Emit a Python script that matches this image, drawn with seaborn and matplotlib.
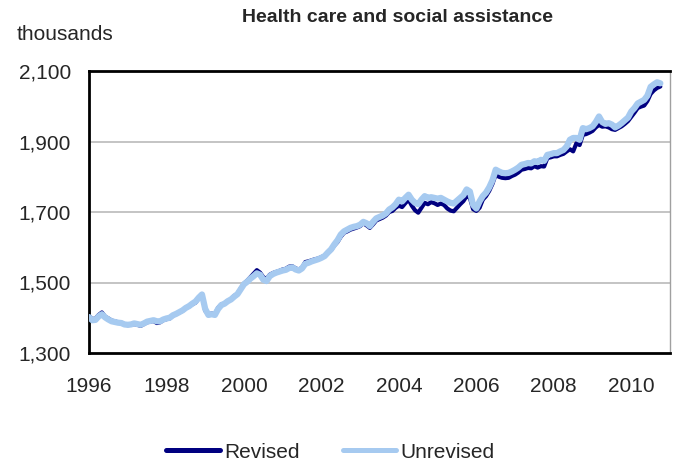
import numpy as np
import pandas as pd
import matplotlib
matplotlib.use("Agg")
import matplotlib.pyplot as plt
from matplotlib.lines import Line2D
import seaborn as sns

# Monthly data, January 1996 to October 2010 (thousands)
start_year = 1996
revised = [
    1405, 1396, 1398, 1408, 1415, 1403, 1398, 1392, 1390, 1387, 1386, 1381,
    1379, 1380, 1382, 1380, 1377, 1382, 1387, 1389, 1391, 1385, 1387, 1393,
    1396, 1398, 1406, 1410, 1415, 1420, 1428, 1432, 1438, 1443, 1455, 1467,
    1420, 1410, 1412, 1410, 1428, 1438, 1440, 1448, 1452, 1462, 1468, 1483,
    1497, 1505, 1515, 1525, 1535, 1528, 1515, 1510, 1522, 1527, 1530, 1533,
    1537, 1539, 1545, 1546, 1540, 1537, 1542, 1558, 1560, 1563, 1566, 1568,
    1572, 1576, 1585, 1592, 1605, 1615, 1630, 1641, 1645, 1650, 1653, 1656,
    1660, 1668, 1662, 1655, 1665, 1676, 1680, 1684, 1690, 1700, 1703, 1712,
    1718, 1714, 1725, 1735, 1718, 1705, 1698, 1712, 1726, 1722, 1728, 1725,
    1720, 1724, 1720, 1710, 1704, 1702, 1712, 1722, 1731, 1745, 1740, 1708,
    1703, 1712, 1735, 1745, 1760, 1780, 1806, 1800, 1797, 1796, 1797, 1802,
    1806, 1812, 1820, 1822, 1825, 1824, 1830, 1826, 1830, 1829, 1853, 1855,
    1858, 1858, 1862, 1865, 1872, 1878, 1872, 1895, 1890, 1919, 1921, 1925,
    1930, 1940, 1947, 1942, 1943, 1940, 1935, 1933, 1938, 1943, 1950, 1958,
    1970, 1982, 1995, 1999, 2002, 2015, 2035, 2045, 2052, 2056,
]
unrevised = [
    1402, 1393, 1394, 1404, 1410, 1401, 1395, 1390, 1388, 1386, 1385, 1381,
    1380, 1381, 1384, 1382, 1380, 1384, 1389, 1391, 1393, 1390, 1390, 1395,
    1398, 1400, 1407, 1411, 1416, 1421, 1428, 1433, 1440, 1446, 1457, 1466,
    1425, 1408, 1410, 1408, 1425, 1436, 1440, 1447, 1452, 1460, 1467, 1481,
    1495, 1502, 1511, 1518, 1526, 1522, 1508, 1504, 1518, 1524, 1528, 1531,
    1534, 1536, 1541, 1543, 1537, 1534, 1540, 1553, 1556, 1560, 1563, 1566,
    1570, 1575, 1585, 1594, 1608, 1620, 1636, 1645, 1650, 1655, 1658, 1660,
    1664, 1672, 1668, 1660, 1672, 1682, 1686, 1690, 1696, 1707, 1713, 1722,
    1735, 1730, 1740, 1749, 1735, 1726, 1722, 1735, 1745, 1740, 1742, 1740,
    1738, 1740, 1735, 1730, 1726, 1724, 1732, 1740, 1748, 1764, 1758, 1720,
    1710, 1730, 1745, 1755, 1770, 1790, 1820, 1815, 1811, 1810, 1811, 1815,
    1820, 1826, 1834, 1836, 1839, 1838, 1844, 1842, 1848, 1845, 1862, 1864,
    1867, 1867, 1872, 1876, 1886, 1905, 1910, 1910, 1905, 1938, 1935, 1938,
    1943, 1955, 1971, 1955, 1950, 1952, 1948, 1940, 1945, 1952, 1960, 1968,
    1985, 1995, 2008, 2013, 2018, 2030, 2055, 2062, 2068, 2065,
]
series_names = ["Revised", "Unrevised"]
x_ticks = [1996, 1998, 2000, 2002, 2004, 2006, 2008, 2010]
y_ticks = [1300, 1500, 1700, 1900, 2100]
title = "Health care and social assistance"
unit_label = "thousands"

n = len(revised)
t = start_year + np.arange(n) / 12.0
df = pd.DataFrame({"t": t, "Revised": revised, "Unrevised": unrevised})

sns.set_style("white")
plt.rcParams["font.family"] = ["Liberation Sans", "DejaVu Sans"]

dark = "#000080"
light = "#a6caf0"

fig = plt.figure(figsize=(6.73, 4.68), dpi=100)
ax = fig.add_axes([89 / 673, 1 - 353 / 468, (670 - 89) / 673, (353 - 71) / 468])

for yv in y_ticks[1:-1]:
    ax.axhline(yv, color="#b4b4b4", lw=1.1, zorder=0)

sns.lineplot(data=df, x="t", y="Revised", ax=ax, color=dark, lw=3.0,
             solid_capstyle="round", zorder=2)
sns.lineplot(data=df, x="t", y="Unrevised", ax=ax, color=light, lw=4.5,
             solid_capstyle="round", zorder=3)

ax.set_xlim(1996, 2011)
ax.set_ylim(1300, 2100)
ax.set_xticks(x_ticks)
ax.set_xticklabels([str(v) for v in x_ticks])
ax.set_yticks(y_ticks)
ax.set_yticklabels([f"{v:,}" for v in y_ticks])
ax.set_xlabel("")
ax.set_ylabel("")
ax.tick_params(axis="x", direction="in", length=5, width=1, color="#555555",
               labelsize=15, pad=17)
ax.tick_params(axis="y", length=0, labelsize=15, pad=13)

for side in ["left", "bottom", "top"]:
    ax.spines[side].set_color("black")
    ax.spines[side].set_linewidth(2)
ax.spines["right"].set_color("#a0a0a0")
ax.spines["right"].set_linewidth(1)

fig.text(397 / 673, 1 - 18 / 468, title, ha="center", va="center",
         fontsize=14, fontweight="bold")
fig.text(17 / 673, 1 - 34 / 468, unit_label, ha="left", va="center", fontsize=15)

handles = [Line2D([], [], color=dark, lw=3.6, solid_capstyle="round"),
           Line2D([], [], color=light, lw=3.6, solid_capstyle="round")]
fig.legend(handles, series_names, loc="center", bbox_to_anchor=(0.491, 0.034),
           ncol=2, frameon=False, fontsize=15, handlelength=2.55,
           handletextpad=0.2, columnspacing=2.1)

fig.savefig("out.png", dpi=100)
